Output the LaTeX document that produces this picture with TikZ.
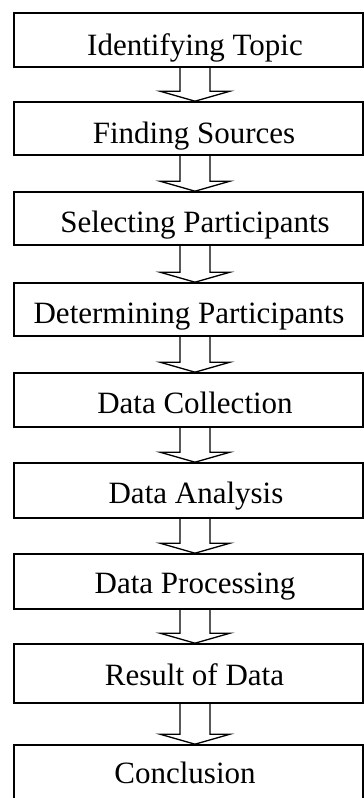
\documentclass[tikz,border=0pt]{standalone}
\usepackage{fontspec}
\setmainfont{Liberation Serif}
\usetikzlibrary{calc}
\tikzset{
  stepbox/.style={draw=black, line width=1.6pt, minimum width=349pt, inner sep=0pt, fill=white},
  steptext/.style={anchor=base, inner sep=0pt, font=\fontsize{31}{31}\selectfont},
  arr/.style={draw=black, line width=1.3pt, line join=miter}
}
\newcommand\blockarrow[2]{%
  \draw[arr] ($(#1.south)+(-8.5,0)$) -- ($(#2.north)+(-8.5,10)$) -- ($(#2.north)+(-28.5,10)$)
    -- ($(#2.north)+(6.5,0)$) -- ($(#2.north)+(41.5,10)$) -- ($(#2.north)+(21.5,10)$)
    -- ($(#1.south)+(21.5,0)$);}
\begin{document}
\begin{tikzpicture}[x=1pt,y=1pt]
\useasboundingbox (0,0) rectangle (364,-798);
\fill[white] (0,0) rectangle (364,-798);
\node[stepbox, minimum height=54pt] (b1) at (188.5,-40) {};
\node[stepbox, minimum height=53pt] (b2) at (188.5,-128.5) {};
\node[stepbox, minimum height=53pt] (b3) at (188.5,-218.5) {};
\node[stepbox, minimum height=53pt] (b4) at (188.5,-309.5) {};
\node[stepbox, minimum height=54pt] (b5) at (188.5,-400) {};
\node[stepbox, minimum height=55pt] (b6) at (188.5,-490.5) {};
\node[stepbox, minimum height=55pt] (b7) at (188.5,-581.5) {};
\node[stepbox, minimum height=59pt] (b8) at (188.5,-673.5) {};
\node[stepbox, minimum height=60pt] (b9) at (188.5,-775) {};
\node[steptext] (t1) at (195,-55) {Identifying Topic};
\node[steptext] (t2) at (194,-143) {Finding Sources};
\node[steptext] (t3) at (195,-232) {Selecting Participants};
\node[steptext] (t4) at (189,-323) {Determining Participants};
\node[steptext] (t5) at (195,-413) {Data Collection};
\node[steptext] (t6) at (196,-503) {Data Analysis};
\node[steptext] (t7) at (195,-593) {Data Processing};
\node[steptext] (t8) at (194.5,-685) {Result of Data};
\node[steptext] (t9) at (185,-783) {Conclusion};
\blockarrow{b1}{b2}
\blockarrow{b2}{b3}
\blockarrow{b3}{b4}
\blockarrow{b4}{b5}
\blockarrow{b5}{b6}
\blockarrow{b6}{b7}
\blockarrow{b7}{b8}
\blockarrow{b8}{b9}
\end{tikzpicture}
\end{document}
